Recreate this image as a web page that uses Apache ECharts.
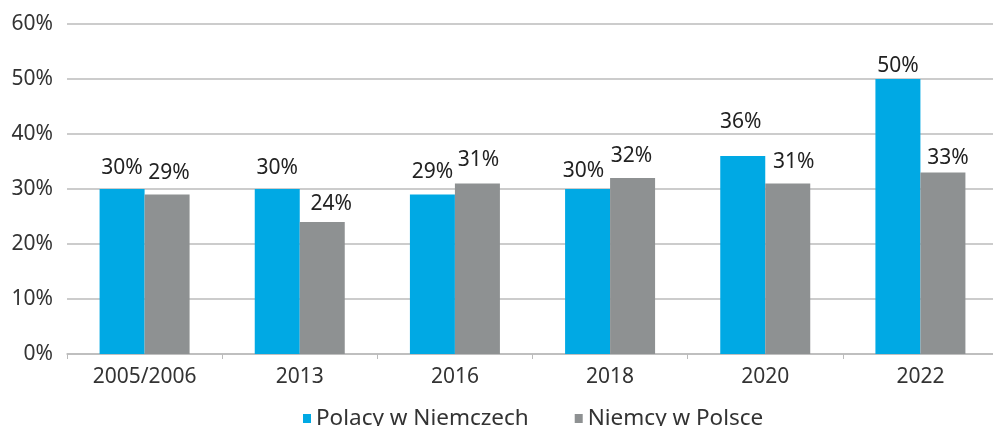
<!DOCTYPE html>
<html>
<head>
<meta charset="utf-8">
<script src="https://cdn.jsdelivr.net/npm/echarts@6/dist/echarts.min.js"></script>
<style>
html,body{margin:0;padding:0;background:#fff;overflow:hidden;}
/* plot runs a few px past the right edge in the original */
#chart{width:998px;height:426px;}
</style>
</head>
<body>
<div id="chart"></div>
<script>
// categories and values
var years = ["2005/2006", "2013", "2016", "2018", "2020", "2022"];
var polacy = [30, 30, 29, 30, 36, 50];
var niemcy = [29, 24, 31, 32, 31, 33];
var seriesNames = ["Polacy w Niemczech", "Niemcy w Polsce"];

// labels in the original were nudged by hand, so a few get a pixel shift
var polacyLabelShift = [[0, 0], [0, 0], [0, -2], [-4, 3], [-2, -13], [0, 8]];
var niemcyLabelShift = [[2, -1], [9, 3], [1, -3], [-1, -1], [6, -1], [5, 6]];

var font = "Noto Sans";
var fs = 21;

function withLabels(values, shifts) {
    return values.map(function (v, i) {
        return {value: v, label: {offset: shifts[i]}};
    });
}

var chart = echarts.init(document.getElementById("chart"));
var barLabel = {show: true, position: "top", distance: 10, formatter: "{c}%", fontSize: fs, color: "#222", fontFamily: font};
var option = {
    animation: false,
    textStyle: {fontFamily: font},
    color: ["#00A9E4", "#8E9192"],
    legend: {
        bottom: -9,
        left: 298,
        itemWidth: 8,
        itemHeight: 9,
        itemGap: 46,
        icon: "rect",
        textStyle: {fontSize: 22.5, color: "#333", fontFamily: font},
        data: seriesNames
    },
    grid: {left: 67, top: 24, right: 0, height: 330},
    xAxis: {
        type: "category",
        data: years,
        axisLine: {lineStyle: {color: "#bbb", width: 1.5}},
        axisTick: {show: true, length: 5, lineStyle: {color: "#bbb"}},
        axisLabel: {fontSize: fs, color: "#333", margin: 13}
    },
    yAxis: {
        type: "value",
        min: 0,
        max: 60,
        interval: 10,
        axisLine: {show: false},
        axisTick: {show: false},
        axisLabel: {formatter: "{value}%", fontSize: fs, color: "#333", margin: 14},
        splitLine: {lineStyle: {color: "#bbb", width: 1.5}}
    },
    series: [
        {
            name: seriesNames[0],
            type: "bar",
            data: withLabels(polacy, polacyLabelShift),
            barWidth: 45,
            barGap: "0%",
            label: barLabel
        },
        {
            name: seriesNames[1],
            type: "bar",
            data: withLabels(niemcy, niemcyLabelShift),
            barWidth: 45,
            barGap: "0%",
            label: barLabel
        }
    ]
};
chart.setOption(option);
</script>
</body>
</html>
